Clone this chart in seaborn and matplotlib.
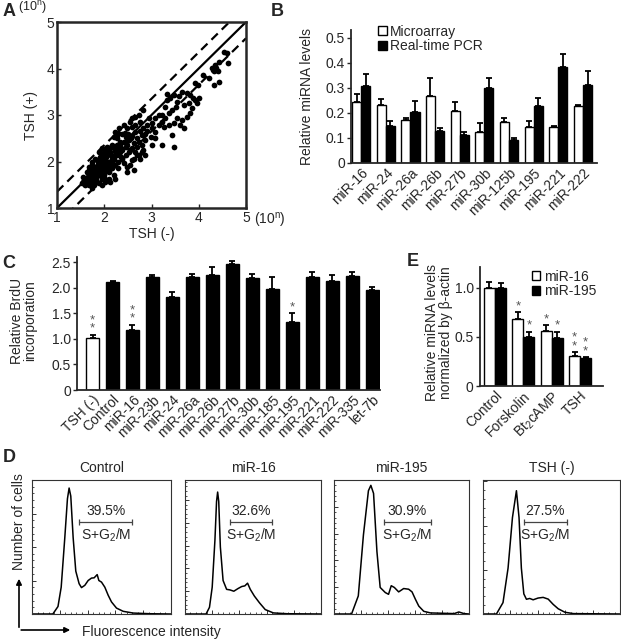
import numpy as np
import pandas as pd
import matplotlib
matplotlib.use("Agg")
import matplotlib.pyplot as plt
from matplotlib.patches import FancyArrowPatch
from matplotlib.ticker import MultipleLocator
import seaborn as sns

# --- A: miRNA expression, log10 scale, TSH(-) vs TSH(+) ---
tsh_minus = [4.60, 4.62, 4.53, 4.42, 4.37, 4.33, 4.41, 4.32, 4.42, 4.22, 4.10, 4.28, 4.35, 3.98, 3.93,
             3.65, 3.75, 3.82, 3.87, 3.93, 4.00, 3.96, 3.58, 3.54, 3.68, 3.79, 3.86, 3.82, 3.75, 3.65,
             3.68, 3.61, 3.47, 3.40, 3.33, 3.51, 3.43, 3.36, 3.29, 3.22, 3.15, 3.26, 3.36, 3.47, 3.54,
             3.43, 3.47, 3.22, 3.08, 3.01, 3.08, 3.01, 3.15, 3.22, 3.29, 3.33, 2.94, 2.90, 2.83, 2.87,
             2.80, 2.76, 2.98, 3.08, 2.87, 2.73, 2.69, 2.66, 2.59, 2.55, 2.66, 2.73, 2.83, 2.48, 2.38,
             2.45, 2.52, 2.62, 2.69, 2.83, 2.55, 2.45, 2.34, 2.27, 2.23, 2.20, 2.31, 2.41, 2.59, 2.62,
             2.48, 2.69, 2.80, 3.01, 2.59, 2.27, 2.30,
             2.02, 1.95, 1.88, 1.81, 1.74, 1.67, 1.60, 1.56, 1.63, 1.70, 1.78, 1.85, 1.92, 1.99, 2.06,
             2.13, 2.20, 2.27, 2.34, 2.23, 2.13, 2.02, 1.95, 1.88, 1.95, 2.06, 2.16, 2.27, 1.81, 1.74,
             1.67, 1.63, 1.70, 1.81, 1.88, 1.99, 2.09, 2.16, 2.23, 2.30, 2.38, 2.45, 2.52, 2.41, 2.30,
             2.20, 2.09, 2.02, 1.95, 1.85, 1.78, 1.67, 1.60, 1.53, 1.56, 1.67, 1.74, 1.85, 1.92, 1.99,
             2.09, 2.20, 2.34, 2.41, 2.48, 2.59, 2.38, 2.66, 2.73, 2.80, 2.87, 2.76, 2.62, 2.55, 2.48,
             2.02, 1.95, 1.88, 1.74, 2.13, 2.23, 1.58, 1.72, 1.90, 2.05, 2.18, 2.10, 1.84, 1.98, 2.35,
             1.60, 1.65, 1.70, 1.75, 1.80, 1.85, 1.90, 1.95, 2.00, 2.05, 2.10, 2.15, 1.72, 1.78, 1.83,
             1.88, 1.93, 1.98, 2.03, 2.08, 2.12, 2.18, 2.25, 2.32, 1.66, 1.76, 1.86, 1.96, 2.06, 2.16,
             2.26, 2.36, 2.46, 2.56, 2.44, 2.50, 2.58, 2.66, 2.76, 2.90]
tsh_plus = [4.33, 4.12, 4.35, 4.15, 4.02, 3.94, 3.94, 3.65, 3.72, 3.79, 3.86, 4.01, 4.08, 3.65, 3.68,
            3.50, 3.47, 3.43, 3.36, 3.32, 3.36, 3.25, 3.40, 3.29, 3.22, 3.25, 3.14, 3.04, 2.96, 2.89,
            2.71, 2.78, 3.43, 3.36, 3.32, 3.18, 3.11, 3.04, 2.93, 2.86, 2.78, 2.75, 2.78, 2.82, 2.93,
            2.57, 2.32, 2.35, 2.64, 2.71, 2.93, 2.82, 3.00, 3.00, 3.18, 3.45, 2.93, 2.78, 2.71, 2.60,
            2.57, 2.86, 2.53, 2.50, 2.46, 2.42, 2.50, 2.64, 2.75, 2.86, 2.96, 3.00, 3.11, 2.71, 2.60,
            2.53, 2.46, 2.39, 2.32, 2.24, 2.24, 2.32, 2.42, 2.50, 2.64, 2.53, 2.71, 2.78, 2.03, 1.81,
            1.78, 2.13, 2.35, 2.35, 2.93, 2.57, 2.62,
            2.06, 1.99, 1.92, 1.85, 1.78, 1.71, 1.63, 1.56, 1.53, 1.56, 1.63, 1.71, 1.78, 1.85, 1.92,
            1.99, 2.06, 2.14, 2.21, 2.24, 2.21, 2.17, 2.14, 2.21, 2.28, 2.32, 2.35, 2.32, 2.06, 1.99,
            1.88, 1.78, 1.67, 1.74, 1.81, 1.71, 1.78, 1.85, 1.92, 1.99, 2.06, 2.14, 2.21, 1.96, 1.85,
            1.71, 1.63, 1.56, 1.63, 1.56, 1.49, 1.49, 1.49, 1.53, 1.67, 1.81, 1.92, 2.03, 2.10, 2.21,
            2.28, 2.28, 2.35, 2.42, 2.35, 2.28, 2.24, 2.21, 2.13, 2.21, 2.13, 2.06, 2.06, 1.92, 1.88,
            1.63, 1.49, 1.53, 1.42, 1.56, 1.63, 1.60, 1.62, 1.70, 1.80, 1.95, 1.88, 1.90, 2.00, 2.10,
            1.58, 1.66, 1.60, 1.72, 1.68, 1.80, 1.74, 1.90, 1.82, 1.98, 1.90, 2.02, 1.52, 1.58, 1.65,
            1.70, 1.86, 2.04, 2.10, 2.18, 1.95, 2.12, 2.20, 2.28, 1.75, 1.85, 1.95, 2.02, 2.25, 2.10,
            2.35, 2.30, 2.40, 2.50, 2.62, 2.60, 2.55, 2.78, 2.66, 2.65]
ref_line = [1, 5]
fold_offset = 0.35

# --- B: microarray vs real-time PCR ---
b_mirnas = ['miR-16', 'miR-24', 'miR-26a', 'miR-26b', 'miR-27b', 'miR-30b',
            'miR-125b', 'miR-195', 'miR-221', 'miR-222']
b_micro = [0.242, 0.231, 0.173, 0.267, 0.209, 0.123, 0.163, 0.143, 0.142, 0.229]
b_micro_err = [0.033, 0.024, 0.007, 0.070, 0.033, 0.036, 0.017, 0.024, 0.007, 0.004]
b_pcr = [0.308, 0.149, 0.205, 0.126, 0.112, 0.298, 0.093, 0.228, 0.381, 0.312]
b_pcr_err = [0.046, 0.018, 0.041, 0.013, 0.013, 0.041, 0.007, 0.030, 0.053, 0.056]

# --- C: BrdU incorporation ---
c_groups = ['TSH (-)', 'Control', 'miR-16', 'miR-23b', 'miR-24', 'miR-26a', 'miR-26b',
            'miR-27b', 'miR-30b', 'miR-185', 'miR-195', 'miR-221', 'miR-222', 'miR-335', 'let-7b']
c_brdu = [1.02, 2.11, 1.18, 2.21, 1.82, 2.21, 2.24, 2.47, 2.19, 1.97, 1.32, 2.21, 2.14, 2.23, 1.95]
c_err = [0.06, 0.02, 0.10, 0.03, 0.09, 0.05, 0.17, 0.06, 0.08, 0.24, 0.18, 0.10, 0.10, 0.08, 0.06]
c_stars = ['**', '', '**', '', '', '', '', '', '', '', '*', '', '', '', '']

# --- E: miR-16 / miR-195 after cAMP stimuli ---
e_groups = ['Control', 'Forskolin', 'Bt$_2$cAMP', 'TSH']
e_mir16 = [1.00, 0.68, 0.56, 0.31]
e_mir16_err = [0.06, 0.07, 0.06, 0.035]
e_mir195 = [1.00, 0.50, 0.49, 0.28]
e_mir195_err = [0.05, 0.05, 0.06, 0.015]
e_stars16 = ['', '*', '*', '**']
e_stars195 = ['', '*', '*', '**']

# --- D: cell cycle histograms (channel, relative count) ---
d_titles = ['Control', 'miR-16', 'miR-195', 'TSH (-)']
d_pct = ['39.5%', '32.6%', '30.9%', '27.5%']
d_gate = [(340, 720), (330, 640), (367, 715), (300, 610)]
ctrl_x = [0, 150, 187, 210, 236, 255, 267, 279, 296, 315, 339, 356, 380, 404, 428, 447, 469, 481,
          500, 524, 548, 572, 608, 656, 728, 850, 1000]
ctrl_y = [0, 0, 0.056, 0.20, 0.57, 0.86, 0.94, 0.88, 0.57, 0.32, 0.226, 0.197, 0.214, 0.25, 0.268,
          0.27, 0.294, 0.25, 0.238, 0.20, 0.14, 0.09, 0.044, 0.02, 0.007, 0.002, 0]
mir16_x = [0, 155, 180, 200, 220, 232, 240, 248, 260, 280, 306, 330, 359, 390, 417, 440, 460, 480,
           510, 548, 590, 650, 750, 1000]
mir16_y = [0, 0, 0.05, 0.2, 0.55, 0.84, 0.91, 0.84, 0.5, 0.25, 0.184, 0.18, 0.17, 0.19, 0.205, 0.21,
           0.23, 0.184, 0.134, 0.083, 0.033, 0.008, 0.002, 0]
mir195_x = [0, 130, 180, 218, 255, 273, 293, 318, 342, 380, 404, 424, 447, 479, 516, 553, 578, 603,
            628, 665, 715, 890, 925, 963, 1000]
mir195_y = [0, 0, 0.135, 0.59, 0.92, 0.96, 0.9, 0.466, 0.198, 0.16, 0.147, 0.211, 0.198, 0.165, 0.19,
            0.185, 0.165, 0.11, 0.059, 0.02, 0.008, 0.003, 0.015, 0.003, 0]
tshm_x = [0, 98, 146, 183, 215, 244, 263, 280, 298, 317, 341, 366, 402, 439, 476, 512, 549, 598,
          660, 1000]
tshm_y = [0, 0, 0.085, 0.343, 0.72, 0.92, 0.72, 0.343, 0.15, 0.11, 0.116, 0.106, 0.119, 0.124,
          0.111, 0.072, 0.039, 0.013, 0.003, 0]
d_curves = [(ctrl_x, ctrl_y), (mir16_x, mir16_y), (mir195_x, mir195_y), (tshm_x, tshm_y)]
d_ytick_step = [0.25, 0.17, 0.2, 0.33]

sns.set_style("ticks")
plt.rcParams['font.family'] = ['Liberation Sans', 'DejaVu Sans']
plt.rcParams['mathtext.fontset'] = 'custom'
plt.rcParams['mathtext.rm'] = 'Liberation Sans'
plt.rcParams['mathtext.it'] = 'Liberation Sans:italic'
FS = 10
W, H = 621, 640
fig = plt.figure(figsize=(W / 100, H / 100), dpi=100)


def px_axes(x0, y0, x1, y1):
    return fig.add_axes([x0 / W, 1 - y1 / H, (x1 - x0) / W, (y1 - y0) / H])


def bar_style(ax):
    sns.despine(ax=ax)
    for s in ['left', 'bottom']:
        ax.spines[s].set_linewidth(1.3)
    ax.tick_params(axis='y', direction='out', length=3, width=1, labelsize=FS, pad=1.5)
    ax.tick_params(axis='x', length=0, labelsize=FS, pad=2)
    for lab in ax.get_xticklabels():
        lab.set_rotation(45)
        lab.set_ha('right')
        lab.set_rotation_mode('anchor')


def add_err(ax, bars, errs, stars=None, star_fs=9.5):
    xs = [b.get_x() + b.get_width() / 2 for b in bars]
    ys = [b.get_height() for b in bars]
    ax.errorbar(xs, ys, yerr=[np.zeros(len(errs)), errs], fmt='none', ecolor='black',
                elinewidth=1.3, capsize=2.3, capthick=1.3, zorder=1)
    if stars:
        for x, y, e, st in zip(xs, ys, errs, stars):
            if st:
                ax.annotate('\n'.join(st), (x, y + e), xytext=(0, 0), textcoords='offset points',
                            ha='center', va='bottom', fontsize=star_fs, color='#555555',
                            linespacing=0.62)


# ---------- A ----------
axA = px_axes(57, 22, 246, 208)
sns.scatterplot(x=tsh_minus, y=tsh_plus, color='black', s=17, linewidth=0, ax=axA)
ref = np.array(ref_line)
axA.plot(ref, ref, color='black', lw=1.6)
axA.plot(ref, ref + fold_offset, color='black', lw=1.6, ls=(0, (4, 2.5)))
axA.plot(ref, ref - fold_offset, color='black', lw=1.6, ls=(0, (4, 2.5)))
axA.set_xlim(1, 5)
axA.set_ylim(1, 5)
axA.set_xticks([1, 2, 3, 4, 5])
axA.set_yticks([1, 2, 3, 4, 5])
axA.tick_params(direction='in', length=3, width=1, labelsize=FS, pad=2)
for s in axA.spines.values():
    s.set_linewidth(1.8)
axA.set_xlabel('TSH (-)', fontsize=FS)
axA.set_ylabel('TSH (+)', fontsize=FS)
axA.xaxis.set_label_coords(0.5, -0.1)
axA.yaxis.set_label_coords(-0.1, 0.5)
fig.text(32 / W, 1 - 8 / H, '(10$^{\\mathregular{n}}$)', fontsize=9, ha='center', va='center')
fig.text(270 / W, 1 - 220 / H, '(10$^{\\mathregular{n}}$)', fontsize=FS, ha='center', va='center')

# ---------- B ----------
axB = px_axes(351, 30, 597, 163)
df_b = pd.DataFrame({
    'miRNA': b_mirnas * 2,
    'level': b_micro + b_pcr,
    'method': ['Microarray'] * len(b_mirnas) + ['Real-time PCR'] * len(b_mirnas),
})
sns.barplot(data=df_b, x='miRNA', y='level', hue='method', palette=['white', 'black'],
            edgecolor='black', linewidth=1, width=0.74, errorbar=None, ax=axB, zorder=2)
add_err(axB, list(axB.containers[0]), b_micro_err)
add_err(axB, list(axB.containers[1]), b_pcr_err)
axB.set_xlim(-0.41, 9.57)
axB.set_ylim(0, 0.53)
axB.set_yticks([0, 0.1, 0.2, 0.3, 0.4, 0.5])
axB.set_yticklabels(['0', '0.1', '0.2', '0.3', '0.4', '0.5'])
axB.set_xlabel('')
axB.set_ylabel('Relative miRNA levels', fontsize=FS)
axB.yaxis.set_label_coords(-0.15, 0.5)
bar_style(axB)
h, l = axB.get_legend_handles_labels()
axB.legend(h, l, loc='upper left', bbox_to_anchor=(0.1, 1.06), frameon=False, fontsize=FS,
           handlelength=0.6, handleheight=0.6, handletextpad=0.25, labelspacing=0.05,
           borderaxespad=0, borderpad=0.2)

# ---------- C ----------
axC = px_axes(77, 257, 380, 390)
c_colors = ['white'] + ['black'] * (len(c_groups) - 1)
sns.barplot(x=c_groups, y=c_brdu, hue=c_groups, palette=c_colors, legend=False,
            edgecolor='black', linewidth=1, width=0.65, ax=axC, zorder=2)
barsC = sorted([b for c in axC.containers for b in c], key=lambda b: b.get_x())
add_err(axC, barsC, c_err, c_stars)
axC.set_xlim(-0.78, 14.4)
axC.set_ylim(0, 2.6)
axC.set_yticks([0, 0.5, 1.0, 1.5, 2.0, 2.5])
axC.set_yticklabels(['0', '0.5', '1.0', '1.5', '2.0', '2.5'])
axC.set_ylabel('Relative BrdU\nincorporation', fontsize=FS, linespacing=0.95)
axC.yaxis.set_label_coords(-0.13, 0.52)
bar_style(axC)

# ---------- E ----------
axE = px_axes(480, 267, 603, 386)
df_e = pd.DataFrame({
    'treat': e_groups * 2,
    'level': e_mir16 + e_mir195,
    'mirna': ['miR-16'] * len(e_groups) + ['miR-195'] * len(e_groups),
})
sns.barplot(data=df_e, x='treat', y='level', hue='mirna', palette=['white', 'black'],
            edgecolor='black', linewidth=1, width=0.78, errorbar=None, ax=axE, zorder=2)
add_err(axE, list(axE.containers[0]), e_mir16_err, e_stars16)
add_err(axE, list(axE.containers[1]), e_mir195_err, e_stars195)
axE.set_xlim(-0.53, 3.81)
axE.set_ylim(0, 1.21)
axE.set_yticks([0, 0.5, 1.0])
axE.set_yticklabels(['0', '0.5', '1.0'])
axE.set_xlabel('')
axE.set_ylabel('Relative miRNA levels\nnormalized by \u03b2-actin', fontsize=FS, linespacing=0.95)
axE.yaxis.set_label_coords(-0.22, 0.45)
bar_style(axE)
h, l = axE.get_legend_handles_labels()
axE.legend(h, l, loc='upper left', bbox_to_anchor=(0.4, 1.0), frameon=False, fontsize=FS,
           handlelength=0.6, handleheight=0.6, handletextpad=0.25, labelspacing=0.05,
           borderaxespad=0, borderpad=0.2)

# ---------- D ----------
d_boxes = [(32, 171), (185, 321), (334, 469), (483, 620)]
for (x0, x1), title, (cx, cy), pct, (g0, g1), step in zip(d_boxes, d_titles, d_curves, d_pct,
                                                          d_gate, d_ytick_step):
    ax = px_axes(x0, 480, x1, 614)
    sns.lineplot(x=cx, y=cy, color='black', lw=1.1, ax=ax, sort=False)
    ax.set_xlim(0, 1000)
    ax.set_ylim(0, 1)
    ax.xaxis.set_major_locator(MultipleLocator(200))
    ax.xaxis.set_minor_locator(MultipleLocator(40))
    ax.yaxis.set_major_locator(MultipleLocator(step))
    ax.yaxis.set_minor_locator(MultipleLocator(step / 5))
    ax.tick_params(which='major', direction='in', length=3, width=0.7, color='#333333',
                   labelleft=False, labelbottom=False)
    ax.tick_params(which='minor', direction='in', length=1.5, width=0.6, color='#333333')
    for s in ax.spines.values():
        s.set_linewidth(0.8)
        s.set_color('#333333')
    ax.set_xlabel('')
    ax.set_ylabel('')
    ax.set_title(title, fontsize=FS, pad=6)
    ax.plot([g0, g1], [0.69, 0.69], color='#444444', lw=0.9, marker='|', ms=5, mew=0.9)
    ax.text((g0 + g1) / 2, 0.72, pct, fontsize=FS, ha='center', va='bottom')
    ax.text((g0 + g1) / 2, 0.655, 'S+G$_2$/M', fontsize=FS, ha='center', va='top')

fig.add_artist(FancyArrowPatch((19 / W, 1 - 630 / H), (19 / W, 1 - 576 / H),
                               transform=fig.transFigure, arrowstyle='-|>', mutation_scale=8,
                               lw=1.2, color='black'))
fig.add_artist(FancyArrowPatch((18.4 / W, 1 - 630 / H), (73 / W, 1 - 630 / H),
                               transform=fig.transFigure, arrowstyle='-|>', mutation_scale=8,
                               lw=1.2, color='black'))
fig.text(19 / W, 1 - 522 / H, 'Number of cells', rotation=90, fontsize=FS, ha='center',
         va='center')
fig.text(82 / W, 1 - 632 / H, 'Fluorescence intensity', fontsize=FS, ha='left', va='center')

# panel letters
for letter, (x, y) in zip('ABCDE', [(9, 12), (277, 12), (9, 263), (9, 457), (413, 262)]):
    fig.text(x / W, 1 - y / H, letter, fontsize=13, fontweight='bold', ha='center', va='center')

fig.savefig('out.png', dpi=100)
